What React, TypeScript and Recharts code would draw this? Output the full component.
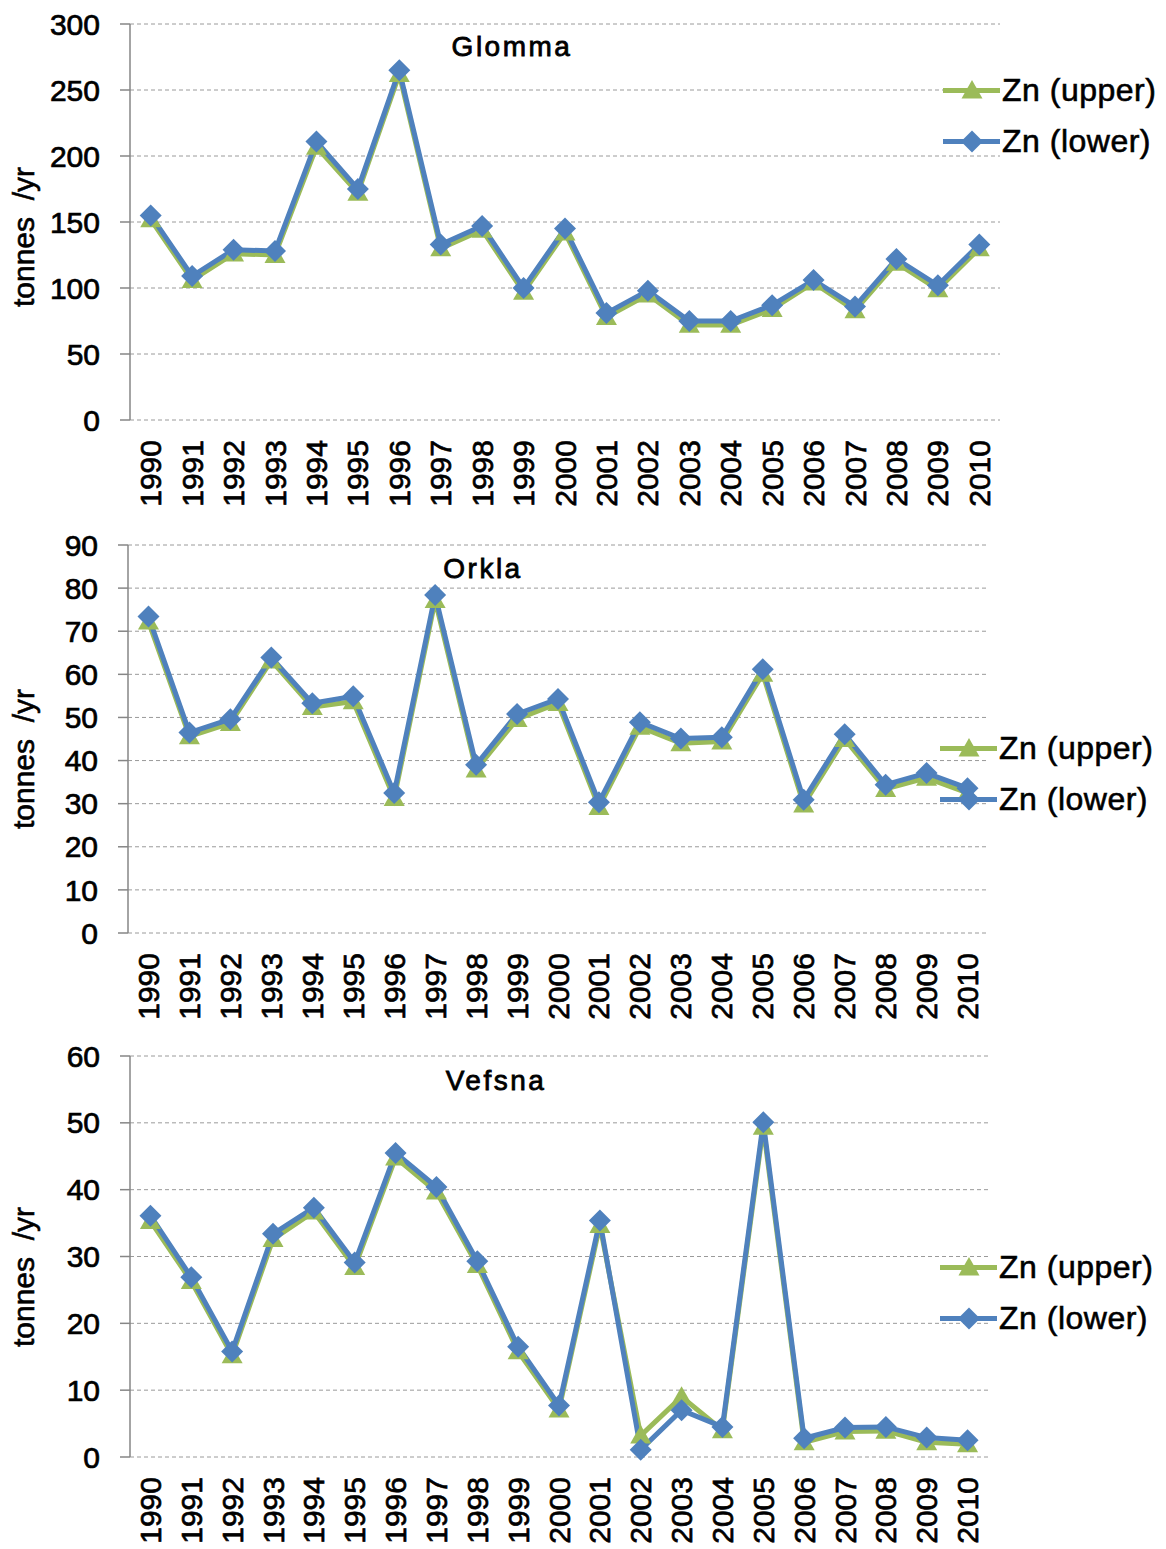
import React from 'react';
import { LineChart, Line, XAxis, YAxis, CartesianGrid, Legend } from 'recharts';

const years = ['1990', '1991', '1992', '1993', '1994', '1995', '1996', '1997', '1998', '1999', '2000', '2001', '2002', '2003', '2004', '2005', '2006', '2007', '2008', '2009', '2010'];

const glommaUpper = [152, 106, 126, 125, 207, 172, 262, 130, 144, 97, 142, 78, 95, 72, 72, 84, 104, 83, 119, 99, 130];
const glommaLower = [155, 109, 129, 128, 211, 175, 265, 133, 147, 100, 145, 81, 98, 75, 75, 87, 106, 86, 122, 102, 133];

const orklaUpper = [72.2, 45.6, 48.7, 63.2, 52.4, 53.7, 31.3, 77.2, 37.9, 49.6, 53.3, 29.2, 47.8, 44.0, 44.4, 60.1, 29.8, 45.0, 33.4, 36.0, 32.5];
const orklaLower = [73.4, 46.5, 49.6, 63.9, 53.3, 54.9, 32.5, 78.4, 39.0, 50.8, 54.3, 30.3, 48.9, 45.1, 45.4, 61.2, 30.9, 46.1, 34.4, 37.1, 33.6];

const vefsnaUpper = [35.3, 26.3, 15.2, 32.6, 36.7, 28.4, 44.8, 39.7, 28.7, 15.8, 7.1, 34.7, 3.2, 9.0, 4.0, 49.4, 2.2, 3.8, 3.9, 2.2, 1.9];
const vefsnaLower = [36.1, 26.9, 15.8, 33.4, 37.3, 29.1, 45.5, 40.4, 29.3, 16.5, 7.7, 35.4, 1.1, 7.0, 4.5, 50.1, 2.8, 4.4, 4.5, 2.9, 2.5];

const glommaTicks = [0, 50, 100, 150, 200, 250, 300];
const orklaTicks = [0, 10, 20, 30, 40, 50, 60, 70, 80, 90];
const vefsnaTicks = [0, 10, 20, 30, 40, 50, 60];

const seriesNames = { upper: 'Zn (upper)', lower: 'Zn (lower)' };
const seriesOrder = ['upper', 'lower'];

const FONT = '"Liberation Sans", Arial, sans-serif';
const BLUE = '#4F81BD';
const GREEN = '#9BBB59';
const AXIS = '#868686';
const GRID = '#9a9a9a';
const TEXT_STROKE = 0.7;

const centerTicks = years.map((_, i) => i);
const boundaryTicks = [...years.map((_, i) => i - 0.5), years.length - 0.5];

function buildRows(upper: number[], lower: number[]) {
  return years.map((y, i) => ({ x: i, year: y, upper: upper[i], lower: lower[i] }));
}

const diamondPath = (cx: number, cy: number, r: number) =>
  `M${cx},${cy - r}L${cx + r},${cy}L${cx},${cy + r}L${cx - r},${cy}Z`;
const trianglePath = (cx: number, cy: number, s: number) =>
  `M${cx},${cy - s}L${cx + s},${cy + s * 0.75}L${cx - s},${cy + s * 0.75}Z`;

const diamondDot = (props: any) => {
  const { cx, cy, index } = props;
  if (cx == null || cy == null) return <g key={`d${index}`} />;
  return <path key={`d${index}`} d={diamondPath(cx, cy, 11)} fill={BLUE} />;
};
const triangleDot = (props: any) => {
  const { cx, cy, index } = props;
  if (cx == null || cy == null) return <g key={`t${index}`} />;
  return <path key={`t${index}`} d={trianglePath(cx, cy, 10.5)} fill={GREEN} />;
};

const YearTick = (props: any) => {
  const { x, y, payload } = props;
  return (
    <text
      x={x}
      y={y}
      transform={`rotate(-90 ${x} ${y})`}
      textAnchor="end"
      dominantBaseline="central"
      fontSize={30}
      fontFamily={FONT}
      fill="#000"
      stroke="#000"
      strokeWidth={TEXT_STROKE}
    >
      {years[payload.value]}
    </text>
  );
};

const ValueTick = (props: any) => {
  const { x, y, payload } = props;
  return (
    <text
      x={x}
      y={y}
      dy="0.355em"
      textAnchor="end"
      fontSize={30}
      fontFamily={FONT}
      fill="#000"
      stroke="#000"
      strokeWidth={TEXT_STROKE}
    >
      {payload.value}
    </text>
  );
};

const LegendContent = (props: any) => {
  const payload = [...(props.payload || [])].sort(
    (a: any, b: any) => seriesOrder.indexOf(a.dataKey) - seriesOrder.indexOf(b.dataKey)
  );
  return (
    <div style={{ fontFamily: FONT, fontSize: 32, letterSpacing: 0.5, color: '#000', WebkitTextStroke: '0.6px #000' }}>
      {payload.map((e: any, i: number) => {
        const isUpper = e.dataKey === 'upper';
        const color = isUpper ? GREEN : BLUE;
        return (
          <div key={i} style={{ display: 'flex', alignItems: 'center', height: 51 }}>
            <svg width={57} height={51} style={{ display: 'block' }}>
              <line x1={0} x2={57} y1={25.5} y2={25.5} stroke={color} strokeWidth={5} />
              <path d={isUpper ? trianglePath(29, 25.5, 10.5) : diamondPath(29, 25.5, 11)} fill={color} />
            </svg>
            <span style={{ marginLeft: 2, whiteSpace: 'nowrap', lineHeight: '51px' }}>{e.value}</span>
          </div>
        );
      })}
    </div>
  );
};

type PanelProps = {
  top: number;
  height: number;
  title: string;
  titleX: number;
  titleY: number;
  yTitleY: number;
  upper: number[];
  lower: number[];
  yTicks: number[];
  plotTop: number;
  plotBottom: number;
  plotLeft: number;
  plotRight: number;
  legendTop: number;
  legendLeft: number;
};

const Panel = (p: PanelProps) => {
  const rows = buildRows(p.upper, p.lower);
  const yMax = p.yTicks[p.yTicks.length - 1];
  const labelAxisHeight = p.height - (p.plotBottom - p.top);
  return (
    <div style={{ position: 'absolute', left: 0, top: p.top, width: 1166, height: p.height }}>
      <LineChart
        width={1166}
        height={p.height}
        data={rows}
        margin={{ top: p.plotTop - p.top, right: 1166 - p.plotRight, bottom: 0, left: 0 }}
      >
        <CartesianGrid
          xAxisId="l"
          horizontal
          vertical={false}
          stroke={GRID}
          strokeDasharray="4 3"
          strokeWidth={1}
        />
        <XAxis
          xAxisId="t"
          type="number"
          dataKey="x"
          domain={[-0.5, years.length - 0.5]}
          ticks={boundaryTicks}
          interval={0}
          tick={false}
          tickSize={10}
          height={0}
          axisLine={{ stroke: AXIS, strokeWidth: 1.5 }}
          tickLine={{ stroke: AXIS, strokeWidth: 1.5 }}
        />
        <XAxis
          xAxisId="l"
          type="number"
          dataKey="x"
          domain={[-0.5, years.length - 0.5]}
          ticks={centerTicks}
          interval={0}
          tick={<YearTick />}
          tickSize={0}
          tickMargin={20}
          tickLine={false}
          axisLine={false}
          height={labelAxisHeight}
        />
        <YAxis
          domain={[0, yMax]}
          ticks={p.yTicks}
          interval={0}
          width={p.plotLeft}
          tickSize={10}
          tickMargin={20}
          axisLine={{ stroke: AXIS, strokeWidth: 1.5 }}
          tickLine={{ stroke: AXIS, strokeWidth: 1.5 }}
          tick={<ValueTick />}
        />
        <Legend
          layout="horizontal"
          verticalAlign="middle"
          align="center"
          wrapperStyle={{ left: p.legendLeft, top: p.legendTop - p.top, width: 226, height: 102 }}
          content={<LegendContent />}
        />
        <Line
          xAxisId="l"
          type="linear"
          dataKey="upper"
          name={seriesNames.upper}
          stroke={GREEN}
          strokeWidth={5}
          dot={triangleDot}
          activeDot={false}
          isAnimationActive={false}
        />
        <Line
          xAxisId="l"
          type="linear"
          dataKey="lower"
          name={seriesNames.lower}
          stroke={BLUE}
          strokeWidth={5}
          dot={diamondDot}
          activeDot={false}
          isAnimationActive={false}
        />
      </LineChart>
      <div
        style={{
          position: 'absolute',
          left: p.titleX,
          top: p.titleY - p.top - 14,
          transform: 'translateX(-50%)',
          fontFamily: FONT,
          fontSize: 28,
          lineHeight: '28px',
          letterSpacing: 2.5,
          whiteSpace: 'nowrap',
          color: '#000',
          WebkitTextStroke: '0.8px #000',
        }}
      >
        {p.title}
      </div>
      <div
        style={{
          position: 'absolute',
          left: 24,
          top: p.yTitleY - p.top,
          transform: 'translate(-50%, -50%) rotate(-90deg)',
          fontFamily: FONT,
          fontSize: 30,
          lineHeight: '30px',
          whiteSpace: 'pre',
          color: '#000',
          WebkitTextStroke: '0.6px #000',
        }}
      >
        {'tonnes  /yr'}
      </div>
    </div>
  );
};

export default function App() {
  return (
    <div style={{ position: 'absolute', left: 0, top: 0, width: 1166, height: 1549, background: '#fff', overflow: 'hidden' }}>
      <Panel
        top={0}
        height={520}
        title="Glomma"
        titleX={512}
        titleY={47}
        yTitleY={237}
        upper={glommaUpper}
        lower={glommaLower}
        yTicks={glommaTicks}
        plotTop={24}
        plotBottom={420}
        plotLeft={130}
        plotRight={1000}
        legendTop={64.5}
        legendLeft={943}
      />
      <Panel
        top={520}
        height={510}
        title="Orkla"
        titleX={483}
        titleY={569}
        yTitleY={759}
        upper={orklaUpper}
        lower={orklaLower}
        yTicks={orklaTicks}
        plotTop={545}
        plotBottom={933}
        plotLeft={128}
        plotRight={988}
        legendTop={722.5}
        legendLeft={940}
      />
      <Panel
        top={1030}
        height={519}
        title="Vefsna"
        titleX={496}
        titleY={1081}
        yTitleY={1277}
        upper={vefsnaUpper}
        lower={vefsnaLower}
        yTicks={vefsnaTicks}
        plotTop={1056}
        plotBottom={1457}
        plotLeft={130}
        plotRight={988}
        legendTop={1241.5}
        legendLeft={940}
      />
    </div>
  );
}
